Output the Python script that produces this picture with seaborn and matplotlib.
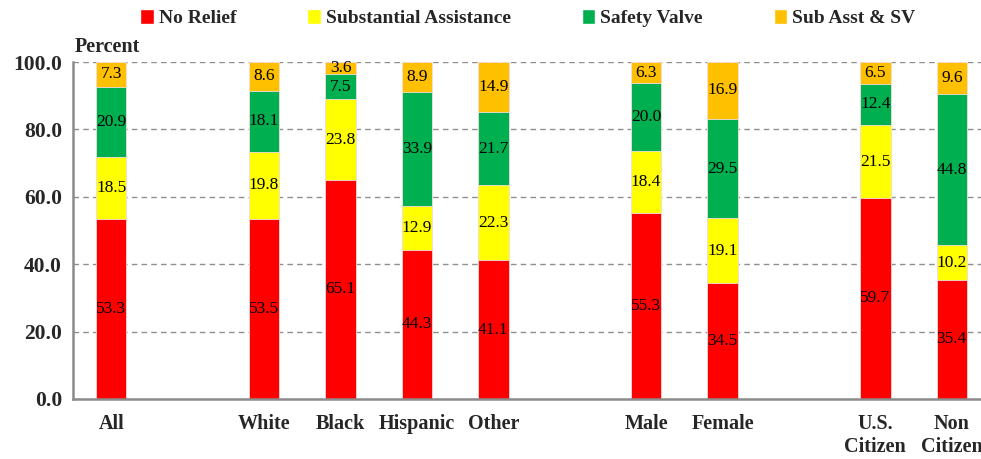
import numpy as np
import pandas as pd
import matplotlib
matplotlib.use("Agg")
import matplotlib.pyplot as plt
import seaborn as sns
from matplotlib.patches import Patch

# categories, split into groups (an empty slot goes between groups)
groups = [["All"],
          ["White", "Black", "Hispanic", "Other"],
          ["Male", "Female"],
          ["U.S.\nCitizen", "Non\nCitizen"]]

# percentages, same order as the categories above
no_relief = [53.3, 53.5, 65.1, 44.3, 41.1, 55.3, 34.5, 59.7, 35.4]
sub_assist = [18.5, 19.8, 23.8, 12.9, 22.3, 18.4, 19.1, 21.5, 10.2]
safety_valve = [20.9, 18.1, 7.5, 33.9, 21.7, 20.0, 29.5, 12.4, 44.8]
sub_sv = [7.3, 8.6, 3.6, 8.9, 14.9, 6.3, 16.9, 6.5, 9.6]

series_names = ["No Relief", "Substantial Assistance", "Safety Valve", "Sub Asst & SV"]
colors = ["#FF0000", "#FFFF00", "#00B050", "#FFC000"]
y_ticks = [0, 20, 40, 60, 80, 100]

# build the category order with blank spacer slots
order = []
labels = []
for gi, g in enumerate(groups):
    if gi > 0:
        order.append(" " * gi)
        labels.append("")
    order.extend(g)
    labels.extend(g)
cats = [c for g in groups for c in g]

series = [no_relief, sub_assist, safety_valve, sub_sv]
df = pd.DataFrame({"category": cats})
cum = np.cumsum(np.array(series), axis=0)
for i, name in enumerate(series_names):
    df[name] = series[i]
    df["cum_" + str(i)] = cum[i]

sns.set_style("white")
plt.rcParams["font.family"] = ["Liberation Serif", "DejaVu Serif"]

fig = plt.figure(figsize=(9.81, 4.59), dpi=100)
ax = fig.add_axes([73 / 981, 1 - 399 / 459, 917 / 981, 337 / 459])

# draw cumulative totals from the top down so each layer covers the one above
for i in reversed(range(len(series))):
    sns.barplot(data=df, x="category", y="cum_" + str(i), order=order,
                color=colors[i], saturation=1, width=0.4, errorbar=None,
                edgecolor="#f4dede", linewidth=0.6, ax=ax)

# value labels in the middle of each segment
pos = {c: order.index(c) for c in cats}
for i in range(len(series)):
    for j, c in enumerate(cats):
        mid = cum[i][j] - series[i][j] / 2
        ax.text(pos[c], mid, "%.1f" % series[i][j], ha="center", va="center",
                fontsize=12.5, color="black")

ax.set_xlim(-0.5, len(order) - 0.5)
ax.set_ylim(0, 100)
ax.set_yticks(y_ticks)
ax.set_yticklabels(["%.1f" % v for v in y_ticks], fontsize=15.5, fontweight="bold")
ax.set_xticks(range(len(order)))
ax.set_xticklabels(labels, fontsize=14.5, fontweight="bold")
ax.set_xticks(np.arange(-0.5, len(order), 1), minor=True)
ax.tick_params(axis="x", which="major", length=0, pad=11)
ax.tick_params(axis="x", which="minor", length=5, width=1.2, color="#8c8c8c", direction="out")
ax.tick_params(axis="y", length=4, width=1.2, color="#8c8c8c", direction="out", pad=4)
ax.set_xlabel("")
ax.set_ylabel("")

ax.yaxis.grid(True, linestyle=(0, (4, 3)), color="#8f8f8f", linewidth=1)
ax.xaxis.grid(False)
ax.set_axisbelow(True)
for s in ["top", "right"]:
    ax.spines[s].set_visible(False)
for s in ["left", "bottom"]:
    ax.spines[s].set_color("#8c8c8c")
    ax.spines[s].set_linewidth(1.8)

fig.text(75 / 981, 1 - 47 / 459, "Percent", fontsize=14.5, fontweight="bold",
         ha="left", va="center")

handles = [Patch(facecolor=colors[i], label=series_names[i]) for i in range(len(series))]
fig.legend(handles=handles, loc="center", bbox_to_anchor=(0.538, 1 - 18 / 459),
           ncol=4, frameon=False, handlelength=0.7, handleheight=0.85,
           handletextpad=0.25, columnspacing=3.65,
           prop={"size": 14, "weight": "bold"})

fig.savefig("out.png", dpi=100)
